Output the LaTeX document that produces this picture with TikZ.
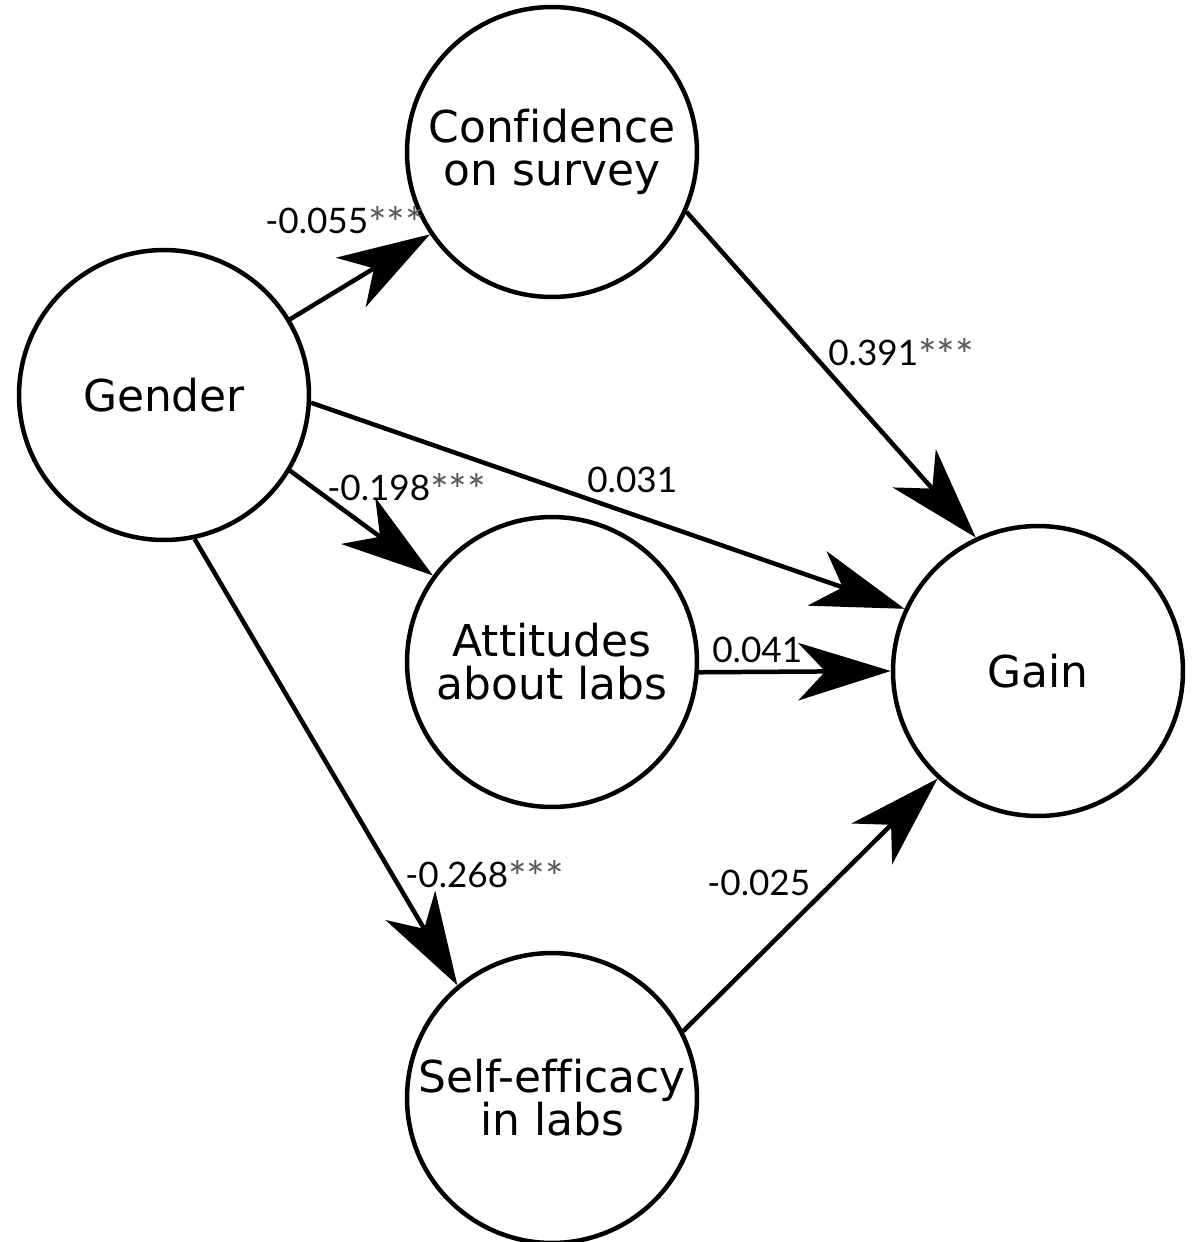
\documentclass[tikz,border=0pt]{standalone}
\usepackage{fontspec}
\setmainfont{DejaVu Sans}[Ligatures=NoCommon]
\newfontfamily\labfont{Lato}
\usepackage{xcolor}
\usetikzlibrary{arrows.meta}
\newcommand{\sigstars}{\raisebox{-3.5pt}{\fontsize{25}{25}\selectfont\textcolor{black!65}{***}}}

\begin{document}
\begin{tikzpicture}[
    x=0.02cm, y=-0.02cm,
    var/.style={draw, circle, line width=0.09cm, minimum size=5.8cm,
                inner sep=0pt, align=center, font=\fontsize{25}{24.5}\selectfont},
    arr/.style={-{Stealth[length=1.85cm, width=1.15cm, inset=0.54cm]}, line width=0.09cm},
    coef/.style={anchor=base west, inner sep=0pt, font=\labfont\fontsize{20}{20}\selectfont}
  ]
    \useasboundingbox (0,0) rectangle (1199,1242);
    \node[var] (gender) at (164,395) {Gender};
    \node[var] (conf) at (552,152) {Confidence\\on survey};
    \node[var] (att) at (552,662) {Attitudes\\about labs};
    \node[var] (self) at (552,1098) {Self-efficacy\\in labs};
    \node[var] (gain) at (1038,671) {Gain};
    \foreach \a/\b in {gender.31/conf.214, gender.-3/gain.155, gender.-31/att.144,
                       gender.-78/self.130, conf.-24/gain.115, att.-4/gain.180,
                       self.27/gain.227}
      \draw[arr] (\a) -- (\b);
    % path coefficients
    \node[coef] (c055) at (265,233) {-0.055\sigstars};
    \node[coef] (c391) at (828,365) {0.391\sigstars};
    \node[coef] (c198) at (327,500) {-0.198\sigstars};
    \node[coef] (c031) at (587,492) {0.031};
    \node[coef] (c041) at (712,662) {0.041};
    \node[coef] (c268) at (405,887) {-0.268\sigstars};
    \node[coef] (c025) at (707,895) {-0.025};
  \end{tikzpicture}
\end{document}
